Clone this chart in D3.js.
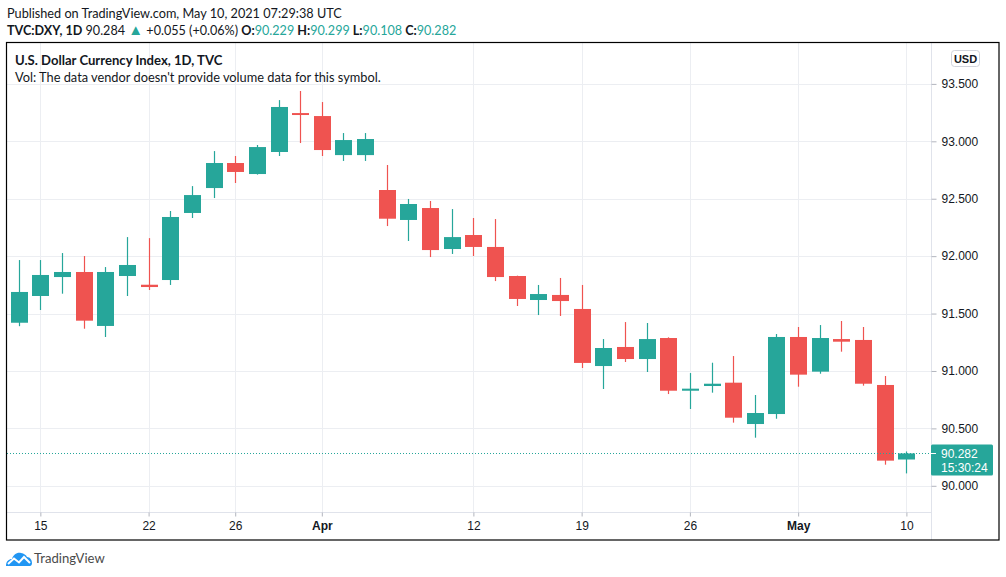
<!DOCTYPE html>
<html><head><meta charset="utf-8">
<script src="https://cdn.jsdelivr.net/npm/d3@7/dist/d3.min.js"></script>
<style>
html,body{margin:0;padding:0;background:#fff;}
svg{display:block;}
</style></head>
<body>
<svg id="chart" width="1006" height="577"></svg>
<script>
// ---- data ----
const dates = ["2021-03-12","2021-03-15","2021-03-16","2021-03-17","2021-03-18","2021-03-19",
"2021-03-22","2021-03-23","2021-03-24","2021-03-25","2021-03-26",
"2021-03-29","2021-03-30","2021-03-31","2021-04-01","2021-04-02",
"2021-04-05","2021-04-06","2021-04-07","2021-04-08","2021-04-09",
"2021-04-12","2021-04-13","2021-04-14","2021-04-15","2021-04-16",
"2021-04-19","2021-04-20","2021-04-21","2021-04-22","2021-04-23",
"2021-04-26","2021-04-27","2021-04-28","2021-04-29","2021-04-30",
"2021-05-03","2021-05-04","2021-05-05","2021-05-06","2021-05-07",
"2021-05-10"];
const open  = [91.420,91.653,91.818,91.862,91.392,91.827,91.751,91.792,92.376,92.593,92.811,
92.715,92.907,93.246,93.220,92.880,92.880,92.576,92.315,92.419,92.062,
92.184,92.080,91.827,91.618,91.662,91.540,91.043,91.209,91.104,91.287,
90.828,90.869,90.898,90.538,90.625,91.296,90.994,91.278,91.270,90.878,90.229];
const high  = [91.966,91.966,92.027,92.001,91.905,92.166,92.157,92.393,92.610,92.915,92.872,
92.968,93.359,93.438,93.342,93.072,93.072,92.794,92.498,92.480,92.410,
92.332,92.323,91.830,91.749,91.810,91.749,91.278,91.426,91.418,91.293,
90.982,91.072,91.130,90.791,91.322,91.383,91.400,91.435,91.383,90.956,90.299];
const low   = [91.390,91.531,91.673,91.368,91.296,91.653,91.705,91.749,92.332,92.506,92.637,
92.710,92.872,92.985,92.872,92.829,92.829,92.262,92.132,91.992,92.019,
92.001,91.783,91.566,91.487,91.479,91.026,90.843,91.078,90.991,90.799,
90.669,90.811,90.550,90.419,90.584,90.863,90.976,91.168,90.872,90.184,90.108];
const close = [91.688,91.836,91.862,91.438,91.862,91.923,91.731,92.341,92.532,92.811,92.733,
92.950,93.299,93.229,92.924,93.011,93.020,92.326,92.454,92.053,92.166,
92.080,91.818,91.627,91.670,91.609,91.070,91.200,91.104,91.278,90.828,
90.846,90.889,90.593,90.634,91.296,90.968,91.287,91.255,90.889,90.219,90.282];
const priceTicks = [90.0,90.5,91.0,91.5,92.0,92.5,93.0,93.5];
const timeTickDates = ["2021-03-15","2021-03-22","2021-03-26","2021-04-01","2021-04-12","2021-04-19","2021-04-26","2021-05-03","2021-05-10"];
const timeTickLabels = ["15","22","26","Apr","12","19","26","May","10"];
const timeTickBold = [false,false,false,true,false,false,false,true,false];

const UP = "#26a69a", DOWN = "#ef5350";
const svg = d3.select("#chart");
svg.append("rect").attr("width",1006).attr("height",577).attr("fill","#fff");

// frame geometry
const L = 7, T = 43, R = 931, B = 512, FR = 999, FB = 540;

const x = d3.scaleLinear().domain([0, dates.length-1]).range([18.7, 906.4]);
const y = d3.scaleLinear().domain([90, 93.5]).range([485.8, 83.9]);

const data = dates.map((d,i)=>({d, i, o:open[i], h:high[i], l:low[i], c:close[i]}));
const tickIdx = timeTickDates.map(d=>dates.indexOf(d));

// grid
const grid = svg.append("g");
grid.selectAll("line.h").data(priceTicks).join("line")
  .attr("x1",L).attr("x2",R).attr("y1",d=>Math.round(y(d))+0.5).attr("y2",d=>Math.round(y(d))+0.5)
  .attr("stroke","#eceef2").attr("stroke-width",1);
grid.selectAll("line.v").data(tickIdx).join("line")
  .attr("y1",T).attr("y2",B).attr("x1",d=>Math.round(x(d))+0.5).attr("x2",d=>Math.round(x(d))+0.5)
  .attr("stroke","#eceef2").attr("stroke-width",1);

// separators
svg.append("line").attr("x1",R+0.5).attr("x2",R+0.5).attr("y1",T).attr("y2",FB).attr("stroke","#e0e3eb");
svg.append("line").attr("x1",L).attr("x2",R).attr("y1",B+0.5).attr("y2",B+0.5).attr("stroke","#e0e3eb");

// price axis
const yAxis = d3.axisRight(y).tickValues(priceTicks).tickFormat(d3.format(".3f")).tickSize(5).tickPadding(5);
const ya = svg.append("g").attr("transform",`translate(${R+0.5},0)`).call(yAxis);
ya.select(".domain").remove();
ya.selectAll(".tick line").attr("stroke","#b2b5be");
ya.selectAll(".tick text").attr("fill","#131722").attr("font-family","Liberation Sans, Arial, sans-serif").attr("font-size",12);

// time axis
const xAxis = d3.axisBottom(x).tickValues(tickIdx).tickFormat((d,i)=>timeTickLabels[i]).tickSize(4).tickPadding(5);
const xa = svg.append("g").attr("transform",`translate(0,${B+0.5})`).call(xAxis);
xa.select(".domain").remove();
xa.selectAll(".tick line").attr("stroke","#b2b5be");
xa.selectAll(".tick text").attr("fill","#131722").attr("font-family","Liberation Sans, Arial, sans-serif").attr("font-size",12)
  .attr("font-weight",(d,i)=>timeTickBold[i]?"bold":"normal");

// candles
const bw = 17;
const cg = svg.append("g");
cg.selectAll("line.wick").data(data).join("line")
  .attr("x1",d=>Math.round(x(d.i))+0.5).attr("x2",d=>Math.round(x(d.i))+0.5)
  .attr("y1",d=>y(d.h)).attr("y2",d=>y(d.l))
  .attr("stroke",d=>d.c>=d.o?UP:DOWN).attr("stroke-width",1.2);
cg.selectAll("rect.body").data(data).join("rect")
  .attr("x",d=>Math.round(x(d.i))+0.5-bw/2)
  .attr("width",bw)
  .attr("y",d=>y(Math.max(d.o,d.c)))
  .attr("height",d=>Math.max(1.5, Math.abs(y(d.o)-y(d.c))))
  .attr("fill",d=>d.c>=d.o?UP:DOWN);

// last price line
const last = data[data.length-1];
const ly = Math.round(y(last.c))+0.5;
svg.append("line").attr("x1",L).attr("x2",R).attr("y1",ly).attr("y2",ly)
  .attr("stroke",UP).attr("stroke-width",1).attr("stroke-dasharray","1,2");
svg.append("rect").attr("x",R).attr("y",ly-9).attr("width",62).attr("height",31).attr("rx",1.5).attr("fill",UP);
svg.append("line").attr("x1",R).attr("x2",R+5).attr("y1",ly).attr("y2",ly).attr("stroke","#fff");
svg.append("text").attr("x",941).attr("y",ly+4.2).attr("fill","#fff")
  .attr("font-family","Liberation Sans, Arial, sans-serif").attr("font-size",12).text(d3.format(".3f")(last.c));
svg.append("text").attr("x",941).attr("y",ly+18.5).attr("fill","#fff")
  .attr("font-family","Liberation Sans, Arial, sans-serif").attr("font-size",12).text("15:30:24");

// USD box
svg.append("rect").attr("x",951.5).attr("y",50.5).attr("width",28).attr("height",16).attr("rx",3)
  .attr("fill","#fff").attr("stroke","#d1d4dc");
svg.append("text").attr("x",965.5).attr("y",62.5).attr("text-anchor","middle").attr("fill","#131722")
  .attr("font-family","Liberation Sans, Arial, sans-serif").attr("font-size",11).attr("font-weight","bold").text("USD");

// frame
svg.append("rect").attr("x",6.5).attr("y",42.5).attr("width",FR-6.5).attr("height",FB-42.5)
  .attr("fill","none").attr("stroke","#000").attr("stroke-width",1.2);

// headers
const HF = "Lato, 'Open Sans', sans-serif";
svg.append("text").attr("x",7).attr("y",17.5).attr("font-family",HF).attr("font-size",12.7).attr("fill","#131722")
  .text("Published on TradingView.com, May 10, 2021 07:29:38 UTC");
const h2 = svg.append("text").attr("x",7).attr("y",34.5).attr("font-family",HF).attr("font-size",12.6).attr("fill","#131722");
const parts = [
  ["TVC:DXY, 1D","bold","#131722",12.6],["\u00a090.284 ","normal","#131722",12.6],["\u25B2","normal",UP,15],
  ["\u00a0+0.055 (+0.06%) ","normal","#131722",12.6],
  ["O:","bold","#131722",12.6],[d3.format(".3f")(last.o),"normal",UP,12.6],
  ["\u00a0H:","bold","#131722",12.6],[d3.format(".3f")(last.h),"normal",UP,12.6],
  ["\u00a0L:","bold","#131722",12.6],[d3.format(".3f")(last.l),"normal",UP,12.6],
  ["\u00a0C:","bold","#131722",12.6],[d3.format(".3f")(last.c),"normal",UP,12.6]
];
h2.selectAll("tspan").data(parts).join("tspan").attr("font-weight",d=>d[1]).attr("fill",d=>d[2])
  .attr("font-size",d=>d[3]).text(d=>d[0]);

svg.append("text").attr("x",15).attr("y",65).attr("font-family",HF).attr("font-size",13.1).attr("font-weight","bold").attr("fill","#131722")
  .text("U.S. Dollar Currency Index, 1D, TVC");
svg.append("text").attr("x",15).attr("y",82).attr("font-family",HF).attr("font-size",12.8).attr("fill","#131722")
  .text("Vol: The data vendor doesn't provide volume data for this symbol.");

// logo
const lg = svg.append("g").attr("transform","translate(6,552)");
lg.append("path").attr("d","M0,14 C0,9 3,7 6,7 C7,3 11,0 15,1 C18,1.5 20,3 21,5 C24,5 26,8 26,11 C26,13 25,14 24,14 Z").attr("fill","#2196f3");
lg.append("path").attr("d","M2,12 L8,6.5 L13,10.5 L18,5 L24,11").attr("fill","none").attr("stroke","#fff").attr("stroke-width",2);
svg.append("text").attr("x",34).attr("y",563).attr("font-family",HF).attr("font-size",13.1).attr("fill","#4a4a4a").text("TradingView");
</script>
</body></html>
